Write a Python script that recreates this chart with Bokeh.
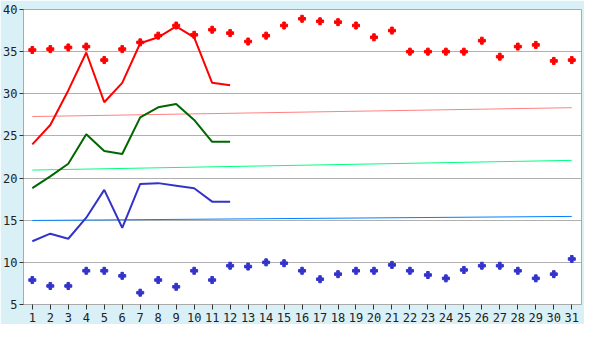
from bokeh.plotting import figure
from bokeh.models import Range1d, FixedTicker
from bokeh.embed import file_html
from bokeh.resources import INLINE

days = list(range(1, 32))
max_points = [35.2, 35.3, 35.5, 35.6, 34.0, 35.3, 36.1, 36.9, 38.1, 37.0,
              37.6, 37.2, 36.2, 36.9, 38.1, 38.9, 38.6, 38.5, 38.1, 36.7,
              37.5, 35.0, 35.0, 35.0, 35.0, 36.3, 34.4, 35.6, 35.8, 33.9, 34.0]
min_points = [7.9, 7.2, 7.2, 9.0, 9.0, 8.4, 6.4, 7.9, 7.1, 9.0,
              7.9, 9.6, 9.5, 10.0, 9.9, 9.0, 8.0, 8.6, 9.0, 9.0,
              9.7, 9.0, 8.5, 8.1, 9.1, 9.6, 9.6, 9.0, 8.1, 8.6, 10.4]
line_days = list(range(1, 13))
max_line = [24.0, 26.3, 30.4, 34.9, 29.0, 31.3, 36.0, 36.7, 38.0, 36.7, 31.3, 31.0]
mean_line = [18.8, 20.2, 21.7, 25.2, 23.2, 22.85, 27.2, 28.4, 28.8, 26.9, 24.3, 24.3]
min_line = [12.5, 13.4, 12.8, 15.3, 18.6, 14.1, 19.3, 19.4, 19.1, 18.8, 17.2, 17.2]
trend_days = [1, 31]
trend_max = [27.3, 28.35]
trend_mean = [20.95, 22.1]
trend_min = [14.97, 15.45]
y_ticks = [5, 10, 15, 20, 25, 30, 35, 40]

bg = "#d9f0f7"
p = figure(width=584, height=324, output_backend="svg", toolbar_location=None,
           x_range=Range1d(0.51, 31.54), y_range=Range1d(5, 40),
           background_fill_color="white", border_fill_color=bg,
           min_border_left=22, min_border_right=3, min_border_top=9, min_border_bottom=20)

p.xgrid.visible = False
p.ygrid.grid_line_color = "#b0b0b0"
p.ygrid.grid_line_width = 1
p.outline_line_color = "#aaaaaa"
p.outline_line_width = 1

for ax in (p.xaxis[0], p.yaxis[0]):
    ax.axis_line_color = "#aaaaaa"
    ax.major_tick_line_color = "#333333"
    ax.major_tick_in = 0
    ax.minor_tick_line_color = None
    ax.major_label_text_font = "DejaVu Sans Mono"
    ax.major_label_text_font_size = "12px"
    ax.major_label_text_color = "#222222"
p.xaxis.major_tick_out = 5
p.yaxis.major_tick_out = 4
p.xaxis.major_label_standoff = 3
p.yaxis.major_label_standoff = 2
p.xaxis.ticker = FixedTicker(ticks=days)
p.yaxis.ticker = FixedTicker(ticks=y_ticks)

p.line(trend_days, trend_max, color="#ff8080", line_width=1)
p.line(trend_days, trend_mean, color="#00ff80", line_width=1)
p.line(trend_days, trend_min, color="#0080ff", line_width=1)

p.line(line_days, max_line, color="#ff0000", line_width=2)
p.line(line_days, mean_line, color="#006600", line_width=2)
p.line(line_days, min_line, color="#3333cc", line_width=2)

p.scatter(days, max_points, marker="plus", size=7, color="#ff0000")
p.scatter(days, min_points, marker="plus", size=7, color="#3333cc")

open("out.html", "w").write(file_html(p, INLINE))
